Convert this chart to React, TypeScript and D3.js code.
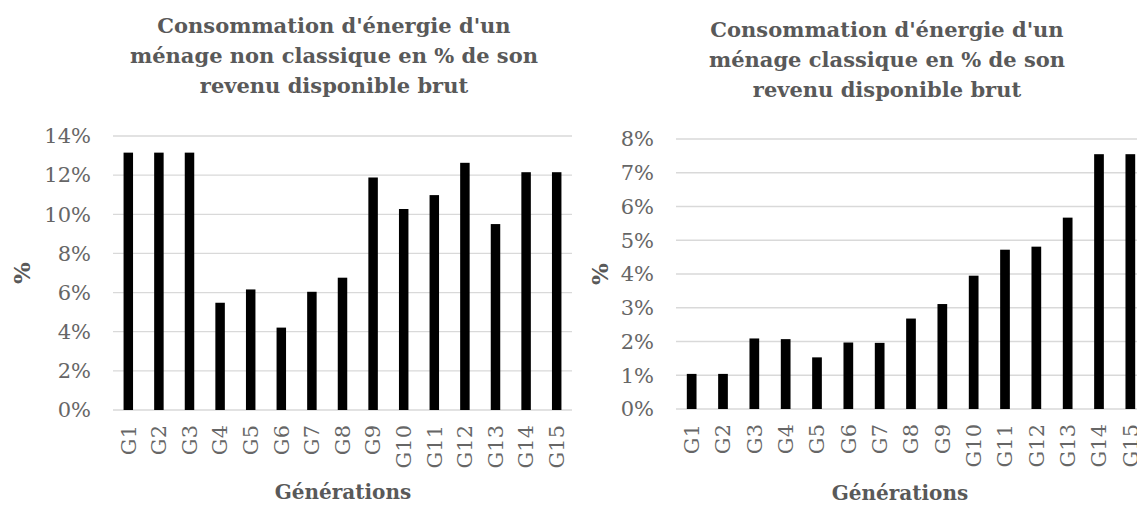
import React from "react";
import * as d3 from "d3";

// data (values in %)
const generations = ["G1", "G2", "G3", "G4", "G5", "G6", "G7", "G8", "G9", "G10", "G11", "G12", "G13", "G14", "G15"];
const nonClassiqueValues = [13.15, 13.15, 13.15, 5.48, 6.16, 4.21, 6.04, 6.76, 11.88, 10.27, 10.98, 12.63, 9.5, 12.15, 12.15];
const classiqueValues = [1.04, 1.04, 2.09, 2.07, 1.53, 1.97, 1.96, 2.68, 3.11, 3.95, 4.72, 4.81, 5.67, 7.55, 7.55];
const nonClassiqueTicks = [0, 2, 4, 6, 8, 10, 12, 14];
const classiqueTicks = [0, 1, 2, 3, 4, 5, 6, 7, 8];
const nonClassiqueTitle = ["Consommation d'énergie d'un", "ménage non classique en % de son", "revenu disponible brut"];
const classiqueTitle = ["Consommation d'énergie d'un", "ménage classique en % de son", "revenu disponible brut"];
const xTitle = "Générations";
const yTitle = "%";

const FONT = "'DejaVu Serif', serif";
const TEXT = "#595959";
const TICK_TEXT = "#666666";
const GRID = "#d9d9d9";

function BarChart({values, ticks, title, plot, titleX, titleY, yTitleX, xTitleX, xTitleY})
{
    const xScale = d3
        .scaleBand()
        .domain(generations)
        .range([plot.left, plot.right])
        .paddingInner(0.69)
        .paddingOuter(0.345);

    const yScale = d3
        .scaleLinear()
        .domain([0, d3.max(ticks)])
        .range([plot.bottom, plot.top]);

    return (
        <g style={{fontFamily: FONT}}>
            {title.map((line, i) => (
                <text key={line} x={titleX} y={titleY + i * 30} textAnchor="middle"
                      fontWeight="bold" fontSize={21} fill={TEXT}>
                    {line}
                </text>
            ))}

            {ticks.map((t) => (
                <g key={t}>
                    <line x1={plot.left} x2={plot.right} y1={yScale(t)} y2={yScale(t)}
                          stroke={GRID} strokeWidth={1.3}/>
                    <text x={plot.left - 22} y={yScale(t)} dy="0.35em" textAnchor="end"
                          fontSize={21} fill={TICK_TEXT}>
                        {t + "%"}
                    </text>
                </g>
            ))}

            {values.map((v, i) => (
                <rect key={generations[i]} x={xScale(generations[i])} width={xScale.bandwidth()}
                      y={yScale(v)} height={yScale(0) - yScale(v)} fill="#000"/>
            ))}

            {generations.map((g) => (
                <text key={g} transform={`translate(${xScale(g) + xScale.bandwidth() / 2}, ${plot.bottom + 15}) rotate(-90)`}
                      dy="0.35em" textAnchor="end" fontSize={21} fill={TICK_TEXT}>
                    {g}
                </text>
            ))}

            <text transform={`translate(${yTitleX}, ${(plot.top + plot.bottom) / 2}) rotate(-90)`}
                  dy="0.35em" textAnchor="middle" fontWeight="bold" fontSize={23} fill={TEXT}>
                {yTitle}
            </text>

            <text x={xTitleX} y={xTitleY} textAnchor="middle"
                  fontWeight="bold" fontSize={20} fill={TEXT}>
                {xTitle}
            </text>
        </g>
    );
}

export default function App()
{
    return (
        <div style={{position: "absolute", left: 0, top: 0}}>
            <svg width={1137} height={507} style={{display: "block", background: "#fff"}}>
                <BarChart values={nonClassiqueValues} ticks={nonClassiqueTicks} title={nonClassiqueTitle}
                          plot={{left: 113, right: 572, top: 136, bottom: 410}}
                          titleX={334} titleY={33} yTitleX={22} xTitleX={343} xTitleY={499}/>
                <BarChart values={classiqueValues} ticks={classiqueTicks} title={classiqueTitle}
                          plot={{left: 676, right: 1146, top: 139, bottom: 409}}
                          titleX={887} titleY={37} yTitleX={600} xTitleX={900} xTitleY={500}/>
            </svg>
        </div>
    );
}
